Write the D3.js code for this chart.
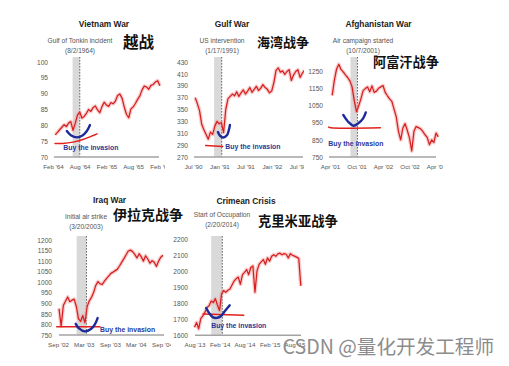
<!DOCTYPE html>
<html>
<head>
<meta charset="utf-8">
<script src="https://cdn.jsdelivr.net/npm/d3@7"></script>
<style>
  body { margin: 0; background: #fff; }
  svg { display: block; font-family: "Liberation Sans", Arial, sans-serif; }
</style>
</head>
<body>
<svg id="chart" width="509" height="366"></svg>
<script>
// ---------------- data ----------------
// Index levels sampled every half month, starting at each series' start date.

// Vietnam War (S&P 500, Feb 1964 - Feb 1966)
const vietnamStart = "1964-02-16";
const vietnamValues = [77.0,77.8,78.6,79.4,80.2,79.6,80.7,81.2,78.4,80.6,
  83.2,84.2,82.3,82.8,83.8,85.0,84.4,85.6,86.1,84.9,
  84.0,85.9,87.3,86.4,86.0,87.2,86.8,87.6,89.4,89.9,
  88.6,85.8,83.5,82.4,85.2,85.8,86.9,88.2,89.3,91.2,
  92.4,92.1,91.4,92.6,92.9,93.7,94.1,92.5];
const vietnamTicks = ["1964-02-01","1964-08-01","1965-02-01","1965-08-01","1966-02-01"];
const vietnamTickLabels = ["Feb '64","Aug '64","Feb '65","Aug '65","Feb '66"];
const vietnamYTicks = [70,75,80,85,90,95,100];

// Gulf War (Jul 1990 - Jul 1992)
const gulfStart = "1990-07-16";
const gulfValues = [370,360,348,325,316,308,300,312,308,322,
  330,326,328,311,350,368,372,376,373,380,
  372,378,383,376,381,387,379,384,389,382,
  386,392,387,384,378,381,395,416,420,413,
  415,409,414,417,399,408,414,417,404,411,416];
const gulfTicks = ["1990-07-01","1991-01-01","1991-07-01","1992-01-01","1992-07-01"];
const gulfTickLabels = ["Jul '90","Jan '91","Jul '91","Jan '92","Jul '92"];
const gulfYTicks = [270,290,310,330,350,370,390,410,430];

// Afghanistan War (Apr 2001 - Apr 2003)
const afghanStart = "2001-04-16";
const afghanValues = [1110,1200,1265,1292,1262,1248,1230,1215,1195,1160,
  1080,1015,1050,1090,1138,1150,1160,1132,1166,1128,
  1135,1152,1160,1168,1128,1108,1090,1075,1030,985,
  900,850,920,945,905,860,785,900,928,922,
  915,900,880,865,822,850,835,890,868];
const afghanTicks = ["2001-04-01","2001-10-01","2002-04-01","2002-10-01","2003-04-01"];
const afghanTickLabels = ["Apr '01","Oct '01","Apr '02","Oct '02","Apr '03"];
const afghanYTicks = [750,850,950,1050,1150,1250];

// Iraq War (Sep 2002 - Sep 2004)
const iraqStart = "2002-09-08";
const iraqValues = [875,792,890,910,930,908,915,920,885,828,
  815,842,808,885,912,928,952,985,1003,992,
  990,1005,1018,1030,1042,1048,1055,1062,1078,1095,
  1112,1130,1148,1152,1145,1132,1115,1135,1120,1100,
  1125,1110,1090,1102,1095,1075,1100,1118,1128];
const iraqTicks = ["2002-09-01","2003-03-01","2003-09-01","2004-03-01","2004-09-01"];
const iraqTickLabels = ["Sep '02","Mar '03","Sep '03","Mar '04","Sep '04"];
const iraqYTicks = [750,800,850,900,950,1000,1050,1100,1150,1200];

// Crimean Crisis (Aug 2013 - Aug 2015)
const crimeaStart = "2013-08-01";
const crimeaValues = [1650,1680,1640,1705,1722,1745,1775,1785,1815,1805,
  1830,1790,1755,1860,1880,1870,1882,1890,1915,1940,
  1955,1965,1920,1980,1995,2012,1980,2025,2035,1870,
  2005,2045,2060,2075,2045,2085,2065,2095,2105,2095,
  2110,2115,2105,2112,2108,2085,2112,2102,2096,2090,
  2082,1910];
const crimeaTicks = ["2013-08-01","2014-02-01","2014-08-01","2015-02-01","2015-08-01"];
const crimeaTickLabels = ["Aug '13","Feb '14","Aug '14","Feb '15","Aug '15"];
const crimeaYTicks = [1600,1700,1800,1900,2000,2100,2200];

// "Buy the invasion" hand-drawn marks: [months from axis start, index level]
const vietnamCup   = [[3.1,78.2],[4.0,76.9],[5.4,76.2],[6.7,76.9],[7.6,78.2],[8.3,80.1]];
const vietnamFloor = [[0.45,74.3],[2.2,74.3],[4.5,74.7],[6.7,75.5],[8.5,76.5],[9.9,77.3]];
const vietnamBuyAt = [2.3,72.3];

const gulfCup   = [[5.7,312],[6.2,305.4],[6.9,302.8],[7.8,307.1],[8.2,315.5],[8.45,324]];
const gulfFloor = [[2.9,289.4],[6.8,287.7]];
const gulfBuyAt = [7.4,284.3];

const afghanCup   = [[3.0,996],[4.1,956],[5.3,933],[6.4,947],[7.5,976],[8.1,1011]];
const afghanFloor = [[-0.3,925],[0.2,921],[11.4,921]];
const afghanBuyAt = [-0.4,817];

const iraqCup   = [[4.1,803],[4.85,781],[6.2,767],[7.6,778],[8.55,802],[9.15,830]];
const iraqFloor = [[-0.3,789],[9.7,789]];
const iraqBuyAt = [9.7,766];

const crimeaCup   = [[2.8,1771],[3.5,1740],[4.45,1712],[5.4,1709],[6.35,1721],[7.3,1752],[8.45,1788]];
const crimeaFloor = [[2.05,1734],[11.8,1726]];
const crimeaBuyAt = [4.0,1646];

// ---------------- layout ----------------
const layouts = {
  vietnam: {x:[53,160], y:[157,62],    base:[54,159],  yLabelX:48,  bandTop:57,  title:[104,27],   note:[80,42.5,52.5],  cjk:[123,47.5,15.5], clip:[0,165]},
  gulf:    {x:[193,298], y:[157,62],   base:[194,303], yLabelX:188, bandTop:57,  title:[232,27],   note:[222,42.5,52.5], cjk:[257,47,13],     clip:[166,304]},
  afghan:  {x:[330,436], y:[157,71.5], base:[329,436], yLabelX:323, bandTop:57,  title:[378.5,27], note:[363,42.5,52.5], cjk:[373,66.5,13.2], clip:[305,443]},
  iraq:    {x:[58,162], y:[335,240],   base:[59,164],  yLabelX:52,  bandTop:236, title:[109.5,203],note:[86,218.5,228.5],cjk:[113,219.5,14],  clip:[0,171]},
  crimea:  {x:[194.5,294.5], y:[335.3,239.6], base:[195,301], yLabelX:188, bandTop:236, title:[246,204], note:[222,217,227], cjk:[258,226,13.3], clip:[172,345]}
};

const panels = [
  {key:"vietnam", title:"Vietnam War", note:["Gulf of Tonkin incident","(8/2/1964)"], cjk:"越战",
   domain:["1964-02-01","1966-02-01"], yDomain:[70,100], start:vietnamStart, values:vietnamValues,
   ticks:vietnamTicks, tickLabels:vietnamTickLabels, yTicks:vietnamYTicks,
   band:["1964-06-14","1964-08-02"], event:"1964-08-02", cup:vietnamCup, floor:vietnamFloor, buyAt:vietnamBuyAt},
  {key:"gulf", title:"Gulf War", note:["US intervention","(1/17/1991)"], cjk:"海湾战争",
   domain:["1990-07-01","1992-07-01"], yDomain:[270,430], start:gulfStart, values:gulfValues,
   ticks:gulfTicks, tickLabels:gulfTickLabels, yTicks:gulfYTicks,
   band:["1990-11-25","1991-01-17"], event:"1991-01-17", cup:gulfCup, floor:gulfFloor, buyAt:gulfBuyAt},
  {key:"afghan", title:"Afghanistan War", note:["Air campaign started","(10/7/2001)"], cjk:"阿富汗战争",
   domain:["2001-04-01","2003-04-01"], yDomain:[750,1250], start:afghanStart, values:afghanValues,
   ticks:afghanTicks, tickLabels:afghanTickLabels, yTicks:afghanYTicks,
   band:["2001-08-20","2001-10-07"], event:"2001-10-07", cup:afghanCup, floor:afghanFloor, buyAt:afghanBuyAt},
  {key:"iraq", title:"Iraq War", note:["Initial air strike","(3/20/2003)"], cjk:"伊拉克战争",
   domain:["2002-09-01","2004-09-01"], yDomain:[750,1200], start:iraqStart, values:iraqValues,
   ticks:iraqTicks, tickLabels:iraqTickLabels, yTicks:iraqYTicks,
   band:["2003-01-10","2003-03-20"], event:"2003-03-20", cup:iraqCup, floor:iraqFloor, buyAt:iraqBuyAt},
  {key:"crimea", title:"Crimean Crisis", note:["Start of Occupation","(2/20/2014)"], cjk:"克里米亚战争",
   domain:["2013-08-01","2015-08-01"], yDomain:[1600,2200], start:crimeaStart, values:crimeaValues,
   ticks:crimeaTicks, tickLabels:crimeaTickLabels, yTicks:crimeaYTicks,
   band:["2013-12-01","2014-02-20"], event:"2014-02-20", cup:crimeaCup, floor:crimeaFloor, buyAt:crimeaBuyAt}
];

// ---------------- drawing ----------------
const parse = d3.utcParse("%Y-%m-%d");
const HALF_MONTH = 365.25 / 24 * 864e5;
const MONTH = 2 * HALF_MONTH;

const svg = d3.select("#chart");
const defs = svg.append("defs");

panels.forEach(p => {
  const L = layouts[p.key];
  const d0 = parse(p.domain[0]), d1 = parse(p.domain[1]);
  const x = d3.scaleUtc().domain([d0, d1]).range(L.x);
  const y = d3.scaleLinear().domain(p.yDomain).range(L.y);
  const atMonth = m => new Date(+d0 + m * MONTH);
  const baseY = y(p.yDomain[0]);

  defs.append("clipPath").attr("id", "clip-" + p.key)
    .append("rect").attr("x", L.clip[0]).attr("y", 0)
    .attr("width", L.clip[1] - L.clip[0]).attr("height", 366);
  const g = svg.append("g").attr("clip-path", `url(#clip-${p.key})`);

  // shaded window before the event
  g.append("rect")
    .attr("x", x(parse(p.band[0]))).attr("y", L.bandTop)
    .attr("width", x(parse(p.band[1])) - x(parse(p.band[0])))
    .attr("height", baseY - L.bandTop)
    .attr("fill", "#d9d9d9");

  // event marker
  g.append("line")
    .attr("x1", x(parse(p.event))).attr("x2", x(parse(p.event)))
    .attr("y1", L.bandTop).attr("y2", baseY)
    .attr("stroke", "#444").attr("stroke-width", 0.8)
    .attr("stroke-dasharray", "1.6,1.4");

  // baseline
  g.append("line")
    .attr("x1", L.base[0]).attr("x2", L.base[1])
    .attr("y1", baseY).attr("y2", baseY)
    .attr("stroke", "#a3a3a3").attr("stroke-width", 1.5);

  // y axis labels
  const yAxis = g.append("g").attr("transform", `translate(${L.yLabelX},0)`)
    .call(d3.axisLeft(y).tickValues(p.yTicks).tickSize(0).tickPadding(0).tickFormat(d3.format("d")));
  yAxis.select(".domain").remove();
  yAxis.selectAll("text").attr("fill", "#555").attr("font-size", 6.6)
    .attr("font-family", "'Liberation Sans', Arial, sans-serif");

  // x axis labels
  const xAxis = g.append("g").attr("transform", `translate(0,${baseY})`)
    .call(d3.axisBottom(x).tickValues(p.ticks.map(parse)).tickSize(0).tickPadding(7.6)
      .tickFormat((d, i) => p.tickLabels[i]));
  xAxis.select(".domain").remove();
  xAxis.selectAll("text").attr("fill", "#555").attr("font-size", 6.2)
    .attr("font-family", "'Liberation Sans', Arial, sans-serif");

  // price series
  const start = parse(p.start);
  const series = p.values.map((v, i) => ({date: new Date(+start + i * HALF_MONTH), value: v}));
  const line = d3.line().x(d => x(d.date)).y(d => y(d.value));
  g.append("path").datum(series).attr("d", line)
    .attr("fill", "none").attr("stroke", "#f29a9a").attr("stroke-width", 3.8)
    .attr("stroke-opacity", 0.5).attr("stroke-linejoin", "round");
  g.append("path").datum(series).attr("d", line)
    .attr("fill", "none").attr("stroke", "#d61f1f").attr("stroke-width", 1.25)
    .attr("stroke-linejoin", "round");

  // hand-drawn "buy the invasion" marks
  const handLine = d3.line().x(d => x(atMonth(d[0]))).y(d => y(d[1])).curve(d3.curveCatmullRom);
  g.append("path").datum(p.floor).attr("d", handLine)
    .attr("fill", "none").attr("stroke", "#e3211c").attr("stroke-width", 1.5)
    .attr("stroke-linecap", "round");
  g.append("path").datum(p.cup).attr("d", handLine)
    .attr("fill", "none").attr("stroke", "#1d2a98").attr("stroke-width", 2.4)
    .attr("stroke-linecap", "round");
  g.append("text")
    .attr("x", x(atMonth(p.buyAt[0]))).attr("y", y(p.buyAt[1]))
    .attr("font-size", 6.9).attr("font-weight", "bold").attr("fill", "#2b3898")
    .text("Buy the invasion");

  // title and event note
  g.append("text").attr("x", L.title[0]).attr("y", L.title[1])
    .attr("text-anchor", "middle").attr("font-size", 8.4).attr("font-weight", "bold")
    .attr("fill", "#222").text(p.title);
  g.append("text").attr("x", L.note[0]).attr("y", L.note[1])
    .attr("text-anchor", "middle").attr("font-size", 6.6).attr("fill", "#555").text(p.note[0]);
  g.append("text").attr("x", L.note[0]).attr("y", L.note[2])
    .attr("text-anchor", "middle").attr("font-size", 6.6).attr("fill", "#555").text(p.note[1]);

  // Chinese caption
  svg.append("text").attr("x", L.cjk[0]).attr("y", L.cjk[1])
    .attr("font-family", "'Noto Sans CJK SC', sans-serif")
    .attr("font-size", L.cjk[2]).attr("font-weight", "bold").attr("fill", "#111")
    .text(p.cjk);
});

// source watermark
svg.append("text").attr("x", 494).attr("y", 353.5).attr("text-anchor", "end")
  .attr("font-family", "'Noto Sans CJK SC', sans-serif").attr("font-size", 19.6)
  .attr("fill", "#8c8c8c").text("CSDN @量化开发工程师");
</script>
</body>
</html>
